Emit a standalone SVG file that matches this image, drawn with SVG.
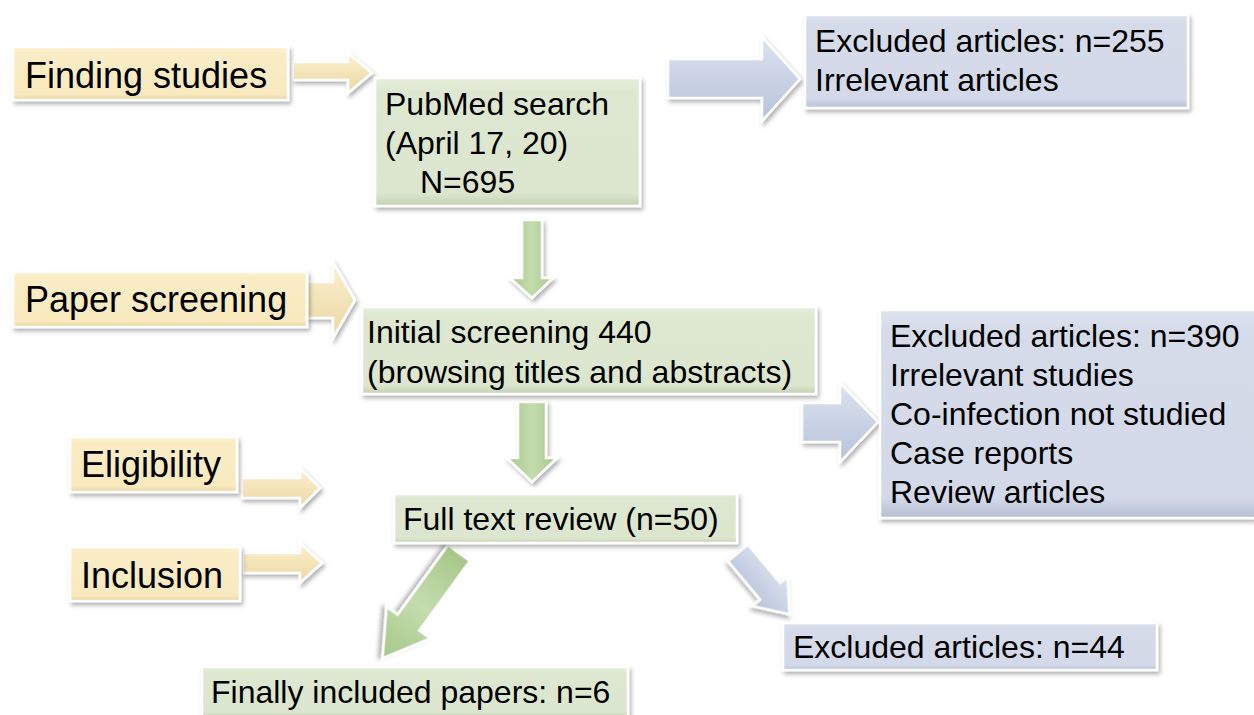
<svg xmlns="http://www.w3.org/2000/svg" width="1254" height="715" viewBox="0 0 1254 715">
<defs>
<filter id="sh" x="-10%" y="-20%" width="125%" height="150%">
<feDropShadow dx="2" dy="3" stdDeviation="2" flood-color="#000" flood-opacity="0.3"/>
</filter>
<linearGradient id="gTan" x1="0" y1="0" x2="0" y2="1">
<stop offset="0" stop-color="#FCF1CF"/><stop offset="0.1" stop-color="#FAEDC6"/><stop offset="0.9" stop-color="#F8E9BE"/><stop offset="1" stop-color="#E6D3A2"/>
</linearGradient>
<linearGradient id="gGreen" x1="0" y1="0" x2="0" y2="1">
<stop offset="0" stop-color="#E6EEDB"/><stop offset="0.1" stop-color="#DEE8D1"/><stop offset="0.9" stop-color="#DCE6CE"/><stop offset="1" stop-color="#C3D1B2"/>
</linearGradient>
<linearGradient id="gBlue" x1="0" y1="0" x2="0" y2="1">
<stop offset="0" stop-color="#DEE3EE"/><stop offset="0.1" stop-color="#D5DBE9"/><stop offset="0.9" stop-color="#D3D9E8"/><stop offset="1" stop-color="#B6BFD3"/>
</linearGradient>
<linearGradient id="aTan" x1="0" y1="0" x2="0" y2="1">
<stop offset="0" stop-color="#FBF0CF"/><stop offset="1" stop-color="#EBD7A2"/>
</linearGradient>
<linearGradient id="aGreen" x1="0" y1="0" x2="1" y2="0">
<stop offset="0" stop-color="#A6C788"/><stop offset="0.5" stop-color="#C4DCAE"/><stop offset="1" stop-color="#A6C788"/>
</linearGradient>
<linearGradient id="aBlue" x1="0" y1="0" x2="0" y2="1">
<stop offset="0" stop-color="#DCE2EF"/><stop offset="1" stop-color="#B8C3DA"/>
</linearGradient>
<style>
.box{stroke:#FFFFFF;stroke-width:2.5;filter:url(#sh)}
.tan{fill:url(#gTan)}
.green{fill:url(#gGreen)}
.blue{fill:url(#gBlue)}
.arr{stroke:#FFFFFF;stroke-width:2.5;stroke-linejoin:miter;filter:url(#sh)}
.at{fill:url(#aTan)}
.ag{fill:url(#aGreen)}
.ab{fill:url(#aBlue)}
text{font-family:"Liberation Sans",Arial,Helvetica,sans-serif;fill:#000}
.big{font-size:36px}
.t{font-size:32px}
</style>
</defs>
<rect width="1254" height="715" fill="#FFFFFF"/>

<g id="connectors">
<polygon class="arr at" points="293,62 348,62 348,53 372,73 348,93 348,80 293,80"/>
<polygon class="arr at" points="307,282 333,282 333,262 355,300 333,338 333,318 307,318"/>
<polygon class="arr at" points="242,478 300,478 300,468 320,488 300,508 300,498 242,498"/>
<polygon class="arr at" points="243,553 300,553 300,543 322,563 300,583 300,573 243,573"/>
<polygon class="arr ag" points="522,220 542,220 542,278 553,278 532,298 510,278 522,278"/>
<polygon class="arr ag" points="518,402 546,402 546,458 557,458 532,482 507,458 518,458"/>
<polygon class="arr ab" points="668,59 762,59 762,37 800,79 762,121 762,98 668,98"/>
<polygon class="arr ab" points="802,403 840,403 840,383 878,422 840,462 840,442 802,442"/>
<polygon class="arr ag" transform="translate(459,553) rotate(126)" points="0,-13.5 86,-13.5 86,-27 130,0 86,27 86,13.5 0,13.5"/>
<polygon class="arr ab" transform="translate(738,553) rotate(50)" points="0,-13 50,-13 50,-23 80,0 50,23 50,13 0,13"/>
</g>

<g id="finding-studies">
<rect class="box tan" x="13" y="47" width="275" height="53"/>
<text class="big" x="25" y="88">Finding studies</text>
</g>

<g id="paper-screening">
<rect class="box tan" x="13" y="272" width="294" height="55"/>
<text class="big" x="25" y="312">Paper screening</text>
</g>

<g id="eligibility">
<rect class="box tan" x="70" y="437" width="167" height="55"/>
<text class="big" x="81" y="477">Eligibility</text>
</g>

<g id="inclusion">
<rect class="box tan" x="70" y="547" width="170" height="54"/>
<text class="big" x="81" y="588">Inclusion</text>
</g>

<g id="pubmed">
<rect class="box green" x="375" y="78" width="265" height="128"/>
<text class="t" x="385" y="115">PubMed search</text>
<text class="t" x="385" y="154">(April 17, 20)</text>
<text class="t" x="420" y="193">N=695</text>
</g>

<g id="excluded-255">
<rect class="box blue" x="805" y="15" width="383" height="93"/>
<text class="t" x="815" y="52">Excluded articles: n=255</text>
<text class="t" x="815" y="91">Irrelevant articles</text>
</g>

<g id="initial-screening">
<rect class="box green" x="362" y="307" width="454" height="87"/>
<text class="t" x="367" y="343">Initial screening 440</text>
<text class="t" x="367" y="383">(browsing titles and abstracts)</text>
</g>

<g id="excluded-390">
<rect class="box blue" x="880" y="310" width="380" height="208"/>
<text class="t" x="890" y="347">Excluded articles: n=390</text>
<text class="t" x="890" y="386">Irrelevant studies</text>
<text class="t" x="890" y="425">Co-infection not studied</text>
<text class="t" x="890" y="464">Case reports</text>
<text class="t" x="890" y="503">Review articles</text>
</g>

<g id="full-text-review">
<rect class="box green" x="394" y="494" width="343" height="49"/>
<text class="t" x="403" y="530">Full text review (n=50)</text>
</g>

<g id="excluded-44">
<rect class="box blue" x="783" y="623" width="374" height="47"/>
<text class="t" x="793" y="658">Excluded articles: n=44</text>
</g>

<g id="finally-included">
<rect class="box green" x="202" y="667" width="426" height="50"/>
<text class="t" x="211" y="703">Finally included papers: n=6</text>
</g>
</svg>
